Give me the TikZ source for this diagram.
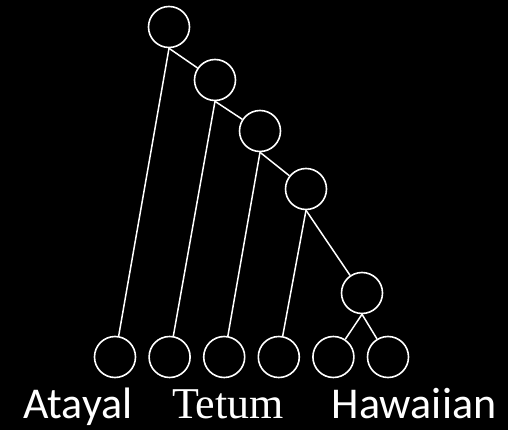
\documentclass[tikz,border=0pt]{standalone}
\usepackage{fontspec}
\setmainfont{Carlito}
\newfontfamily\serifname{Liberation Serif}
\usetikzlibrary{positioning}
\tikzset{
  anc/.style={circle, draw=white, fill=black, line width=1.6pt, minimum size=41pt,
    inner sep=0pt},
  leaf/.style={circle, draw=white, fill=black, line width=1.6pt, minimum size=41pt,
    inner sep=0pt},
  branch/.style={draw=white, line width=1.5pt},
  lang/.style={text=white, inner sep=0pt, anchor=base, font=\fontsize{44}{48}\selectfont},
}
\begin{document}
\begin{tikzpicture}[x=1pt, y=-1pt]
  \fill[black] (0,0) rectangle (508,430);
  \useasboundingbox (0,0) rectangle (508,430);
  % internal nodes
  \node[anc] (root) at (169,27) {};
  \node[anc] (n2) at (215,80) {};
  \node[anc] (n3) at (260,131) {};
  \node[anc] (n4) at (306,189) {};
  \node[anc] (n5) at (362,293) {};
  % leaves
  \node[leaf] (l1) at (115,357) {};
  \node[leaf, right=12pt of l1] (l2) {};
  \node[leaf, right=12pt of l2] (l3) {};
  \node[leaf, right=12pt of l3] (l4) {};
  \node[leaf, right=12pt of l4] (l5) {};
  \node[leaf, right=12pt of l5] (l6) {};
  % labels
  \node[lang] (atayal) at (78,418) {Atayal};
  \node[lang, font=\serifname\fontsize{44}{48}\selectfont] (tetum) at (228,418) {Tetum};
  \node[lang] (hawaiian) at (414,418) {Hawaiian};
  % branches
  \draw[branch] (root.south) -- (n2);
  \draw[branch] (n2.south) -- (n3);
  \draw[branch] (n3.south) -- (n4);
  \draw[branch] (n4.south) -- (n5);
  \draw[branch] (root.south) -- (l1);
  \draw[branch] (n2.south) -- (l2);
  \draw[branch] (n3.south) -- (l3);
  \draw[branch] (n4.south) -- (l4);
  \draw[branch] (n5.south) -- (l5);
  \draw[branch] (n5.south) -- (l6);
\end{tikzpicture}
\end{document}
